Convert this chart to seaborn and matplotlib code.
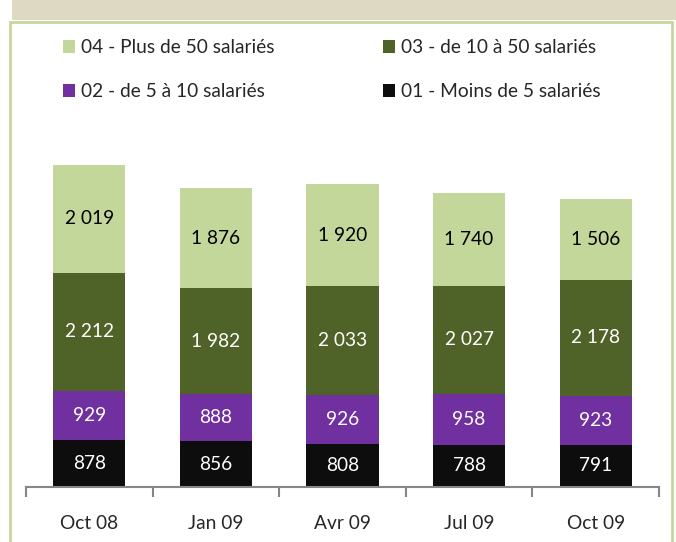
import numpy as np
import pandas as pd
import seaborn as sns
import matplotlib.pyplot as plt
from matplotlib.patches import Rectangle, Patch

# Data
periods = ['Oct 08', 'Jan 09', 'Avr 09', 'Jul 09', 'Oct 09']
moins5 = [878, 856, 808, 788, 791]
de5a10 = [929, 888, 926, 958, 923]
de10a50 = [2212, 1982, 2033, 2027, 2178]
plus50 = [2019, 1876, 1920, 1740, 1506]

series_names = ['01 - Moins de 5 salariés', '02 - de 5 à 10 salariés',
                '03 - de 10 à 50 salariés', '04 - Plus de 50 salariés']
series_vals = [moins5, de5a10, de10a50, plus50]
colors = ['#0D0D0D', '#7030A0', '#4F6228', '#C4D79B']
text_colors = ['white', 'white', 'white', 'black']

sns.set_style('white')
plt.rcParams['font.family'] = ['Lato', 'DejaVu Sans']
FS = 13.8

W, H = 676, 542
fig = plt.figure(figsize=(W / 100, H / 100), dpi=100)

# header band and frame
fig.patches.append(Rectangle((12 / W, 1 - 20 / H), 1, 20 / H, transform=fig.transFigure,
                             facecolor='#DDD9C3', edgecolor='none', zorder=-10))
fig.patches.append(Rectangle((10 / W, -0.05), 662 / W, 1 - 22 / H + 0.05, transform=fig.transFigure,
                             facecolor='white', edgecolor='#C4D79B', lw=2, zorder=-10))

ax = fig.add_axes([26 / W, (H - 487) / H, (659 - 26) / W, 346.5 / H])
ax.patch.set_alpha(0)

df = pd.DataFrame({'Periode': periods})
bottom = np.zeros(len(periods))
for name, vals, c in zip(series_names, series_vals, colors):
    sns.barplot(x=df['Periode'], y=vals, bottom=bottom, color=c, saturation=1,
                width=0.57, ax=ax, label=name, linewidth=0)
    bottom = bottom + np.array(vals)

for cont, vals, tc in zip(ax.containers, series_vals, text_colors):
    labels = ['{:,}'.format(v).replace(',', ' ') for v in vals]
    ax.bar_label(cont, labels=labels, label_type='center', color=tc, fontsize=FS)

ax.set_ylim(0, 6500)
ax.set_xlim(-0.5, 4.5)
ax.set_yticks([])
ax.set_xlabel('')
ax.set_ylabel('')
for s in ['top', 'right', 'left']:
    ax.spines[s].set_visible(False)
ax.spines['bottom'].set_color('#868686')
ax.spines['bottom'].set_linewidth(1.5)
ax.tick_params(axis='x', which='major', length=0, pad=20, labelsize=FS)
ax.set_xticks(np.arange(-0.5, 5, 1), minor=True)
ax.tick_params(axis='x', which='minor', bottom=True, length=7, width=1.5,
               color='#868686', direction='out')
if ax.get_legend():
    ax.get_legend().remove()

# legend in two blocks
def handles_for(idx):
    return [Patch(facecolor=colors[i], edgecolor='none') for i in idx], [series_names[i] for i in idx]

for idx, x0 in [([3, 1], 63 / W), ([2, 0], 383 / W)]:
    h, l = handles_for(idx)
    fig.legend(h, l, loc='upper left', bbox_to_anchor=(x0, 1 - 39 / H), frameon=False,
               fontsize=FS, handlelength=0.65, handleheight=0.65, handletextpad=0.3,
               labelspacing=1.42, borderaxespad=0, borderpad=0)

fig.savefig('out.png', dpi=100)
